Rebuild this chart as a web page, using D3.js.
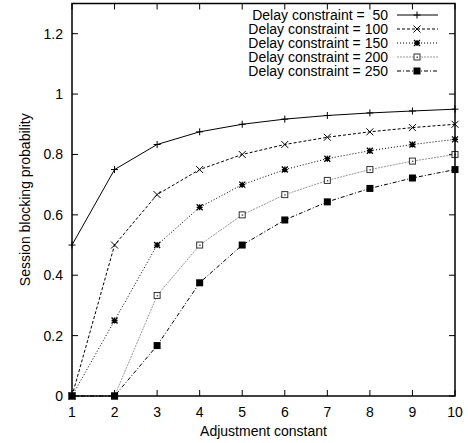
<!DOCTYPE html>
<html>
<head>
<meta charset="utf-8">
<script src="https://cdn.jsdelivr.net/npm/d3@7"></script>
<style>
  body { margin: 0; background: #fff; }
  text { font-family: "Liberation Sans", Arial, sans-serif; font-size: 14px; fill: #000; }
</style>
</head>
<body>
<div id="chart"></div>
<script>
// adjustment constant on the x axis
var adjustment = [1, 2, 3, 4, 5, 6, 7, 8, 9, 10];

// session blocking probability for each delay constraint
var delay50  = [0.5, 0.75, 0.833, 0.875, 0.9, 0.917, 0.929, 0.9375, 0.944, 0.95];
var delay100 = [0, 0.5, 0.667, 0.75, 0.8, 0.833, 0.857, 0.875, 0.889, 0.9];
var delay150 = [0, 0.25, 0.5, 0.625, 0.7, 0.75, 0.786, 0.8125, 0.833, 0.85];
var delay200 = [0, 0, 0.333, 0.5, 0.6, 0.667, 0.714, 0.75, 0.778, 0.8];
var delay250 = [0, 0, 0.167, 0.375, 0.5, 0.583, 0.643, 0.6875, 0.722, 0.75];

var seriesLabels = ["Delay constraint =  50", "Delay constraint = 100", "Delay constraint = 150",
                    "Delay constraint = 200", "Delay constraint = 250"];
var yTicks = [0, 0.2, 0.4, 0.6, 0.8, 1, 1.2];

(function () {
  'use strict';

  var width = 468, height = 443;
  var margin = { top: 3.5, right: 13, bottom: 47, left: 72 };

  var svg = d3.select("#chart").append("svg")
    .attr("width", width)
    .attr("height", height);

  var x = d3.scaleLinear().domain([1, 10]).range([margin.left, width - margin.right]);
  var y = d3.scaleLinear().domain([0, 1.3]).range([height - margin.bottom, margin.top]);

  var series = [
    { label: seriesLabels[0], values: delay50,  stroke: "#000", dash: null,      mark: "plus" },
    { label: seriesLabels[1], values: delay100, stroke: "#000", dash: "3,2",     mark: "cross" },
    { label: seriesLabels[2], values: delay150, stroke: "#000", dash: "1,2",     mark: "star" },
    { label: seriesLabels[3], values: delay200, stroke: "#999", dash: "2,1",     mark: "box" },
    { label: seriesLabels[4], values: delay250, stroke: "#000", dash: "4,2,1,2", mark: "filledbox" }
  ];

  function drawMark(g, type, cx, cy, color) {
    var s = 3.5;
    if (type === "plus") {
      g.append("path").attr("d", "M" + (cx - s) + "," + cy + "H" + (cx + s) + "M" + cx + "," + (cy - s) + "V" + (cy + s))
        .attr("stroke", color).attr("fill", "none");
    } else if (type === "cross") {
      g.append("path").attr("d", "M" + (cx - s) + "," + (cy - s) + "L" + (cx + s) + "," + (cy + s) +
          "M" + (cx - s) + "," + (cy + s) + "L" + (cx + s) + "," + (cy - s))
        .attr("stroke", color).attr("fill", "none");
    } else if (type === "star") {
      s = 3;
      g.append("path").attr("d", "M" + (cx - s) + "," + (cy - s) + "L" + (cx + s) + "," + (cy + s) +
          "M" + (cx - s) + "," + (cy + s) + "L" + (cx + s) + "," + (cy - s) +
          "M" + (cx - s) + "," + cy + "H" + (cx + s) + "M" + cx + "," + (cy - s) + "V" + (cy + s))
        .attr("stroke", color).attr("stroke-width", 1.3).attr("fill", "none");
    } else if (type === "box") {
      g.append("rect").attr("x", cx - 3).attr("y", cy - 3).attr("width", 6).attr("height", 6)
        .attr("stroke", "#333").attr("fill", "#fff");
      g.append("rect").attr("x", cx - 0.5).attr("y", cy - 0.5).attr("width", 1.5).attr("height", 1.5)
        .attr("fill", "#555");
    } else if (type === "filledbox") {
      g.append("rect").attr("x", cx - 3.5).attr("y", cy - 3.5).attr("width", 7).attr("height", 7)
        .attr("fill", color);
    }
  }

  // ticks, inward and mirrored
  var ticks = svg.append("g").attr("stroke", "#000").attr("stroke-width", 1);
  var tl = 6;
  adjustment.forEach(function (v) {
    ticks.append("line").attr("x1", x(v)).attr("x2", x(v)).attr("y1", y(0)).attr("y2", y(0) - tl);
    ticks.append("line").attr("x1", x(v)).attr("x2", x(v)).attr("y1", y(1.3)).attr("y2", y(1.3) + tl);
    svg.append("text").attr("x", x(v)).attr("y", y(0) + 21).attr("text-anchor", "middle").text(v);
  });
  yTicks.forEach(function (v) {
    ticks.append("line").attr("x1", x(1)).attr("x2", x(1) + tl).attr("y1", y(v)).attr("y2", y(v));
    ticks.append("line").attr("x1", x(10)).attr("x2", x(10) - tl).attr("y1", y(v)).attr("y2", y(v));
    svg.append("text").attr("x", 63).attr("y", y(v) + 5).attr("text-anchor", "end").text(v);
  });

  var line = d3.line()
    .x(function (d, i) { return x(adjustment[i]); })
    .y(function (d) { return y(d); });

  series.forEach(function (s) {
    svg.append("path")
      .datum(s.values)
      .attr("d", line)
      .attr("fill", "none")
      .attr("stroke", s.stroke)
      .attr("stroke-width", 1)
      .attr("stroke-dasharray", s.dash);
    var g = svg.append("g");
    s.values.forEach(function (v, i) {
      drawMark(g, s.mark, x(adjustment[i]), y(v), "#000");
    });
  });

  // frame
  svg.append("rect")
    .attr("x", x(1)).attr("y", y(1.3))
    .attr("width", x(10) - x(1)).attr("height", y(0) - y(1.3))
    .attr("fill", "none").attr("stroke", "#000").attr("stroke-width", 1.5);

  // legend
  var legend = svg.append("g");
  series.forEach(function (s, i) {
    var ly = 15 + i * 14;
    legend.append("text")
      .attr("x", 388).attr("y", ly + 5)
      .attr("text-anchor", "end")
      .style("white-space", "pre")
      .text(s.label);
    legend.append("line")
      .attr("x1", 397).attr("x2", 438).attr("y1", ly).attr("y2", ly)
      .attr("stroke", s.stroke).attr("stroke-dasharray", s.dash);
    drawMark(legend, s.mark, 417, ly, "#000");
  });

  // axis titles
  svg.append("text")
    .attr("x", (x(1) + x(10)) / 2).attr("y", 436)
    .attr("text-anchor", "middle")
    .text("Adjustment constant");
  svg.append("text")
    .attr("transform", "translate(30," + ((y(0) + y(1.3)) / 2) + ") rotate(-90)")
    .attr("text-anchor", "middle")
    .text("Session blocking probability");
})();
</script>
</body>
</html>
